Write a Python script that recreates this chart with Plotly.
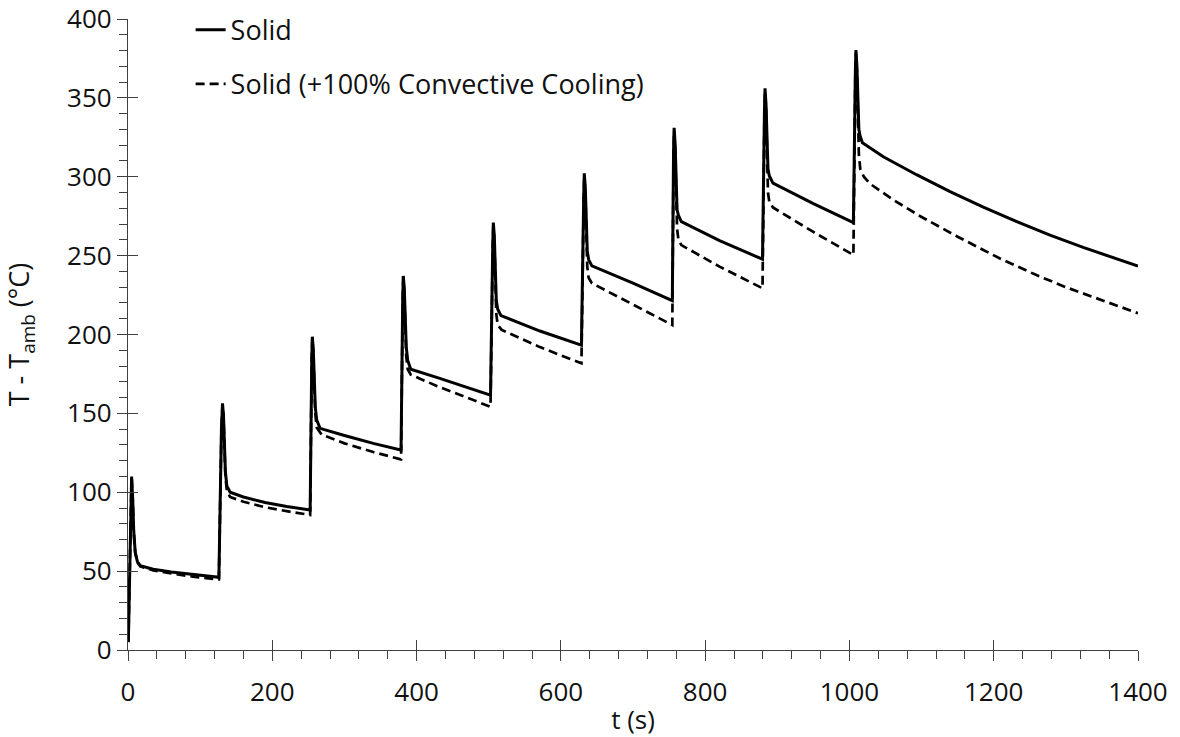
import plotly.graph_objects as go

# ---- data (t in s, T - Tamb in °C) ----
t_solid = [0.5, 3.5, 5, 6.5, 8, 10, 13, 17, 35, 60, 90, 124,
           126, 129.5, 131, 132.4, 133.7, 135, 137, 141.5, 160, 190, 220, 252.3,
           252.5, 254.7, 255.5, 256.9, 258.2, 259.6, 261.6, 266.2, 300, 340, 378,
           378.5, 380.8, 381.6, 383, 384.3, 385.7, 387.7, 392, 430, 470, 501.8,
           502.5, 505.6, 506.4, 507.8, 509.1, 510.5, 512.5, 517, 571, 626.6,
           628.5, 631.7, 632.5, 633.9, 635.2, 636.6, 638.5, 643, 700, 753.7,
           754.5, 756.2, 757, 758.4, 759.7, 761.1, 763, 767, 820, 878.4,
           879.5, 882.2, 883, 884.4, 885.7, 887.1, 889, 894, 950, 1004.5,
           1005.5, 1008.2, 1009, 1010.4, 1011.7, 1013.1, 1015, 1018, 1047, 1093,
           1139.5, 1185.6, 1232, 1278, 1324, 1400]
T_solid = [5, 95, 110, 96, 75, 62, 56, 53.5, 51.2, 49.5, 47.8, 46.1,
           46.1, 140, 156.4, 148.5, 130, 113, 104, 100, 97, 93.5, 91, 88.7,
           88.7, 185, 198.6, 190, 171, 154, 145.8, 140.5, 136, 131, 126.8,
           126.8, 223, 237.1, 229, 209, 192, 183.5, 178, 172.5, 166.5, 161.6,
           161.6, 257, 270.9, 262, 240, 221.5, 216, 212, 202.2, 193.3,
           193.3, 288, 302.2, 293, 270, 253, 247.5, 243.5, 232.5, 221.4,
           221.4, 316, 331, 321, 297, 279, 275.5, 271.5, 259.5, 247.7,
           247.7, 341, 356, 346, 321, 305, 300.5, 296, 283, 270.9,
           270.9, 366, 380.3, 370, 347, 330, 325.5, 321.5, 312.7, 301.3,
           290.6, 280.8, 271.6, 263.0, 255.2, 243.4]

t_cool = [0.5, 3.5, 5, 6.5, 8, 10, 13, 17, 35, 60, 90, 124,
          126, 129.5, 131, 132.4, 133.7, 135, 137, 141.5, 160, 190, 220, 252.3,
          252.5, 254.7, 255.5, 256.9, 258.2, 259.6, 261.6, 268.5, 300, 340, 378,
          378.5, 380.8, 381.6, 383, 384.3, 385.7, 387.7, 392, 430, 470, 501.8,
          502.5, 505.6, 506.4, 507.8, 509.1, 510.5, 512.5, 518, 571, 626.6,
          628.5, 631.7, 632.5, 633.9, 635.2, 636.6, 638.5, 643, 700, 753.7,
          754.5, 756.2, 757, 758.4, 759.7, 761.1, 763, 767, 820, 878.4,
          879.5, 882.2, 883, 884.4, 885.7, 887.1, 889, 894, 950, 1004.5,
          1005.5, 1008.2, 1009, 1010.4, 1011.7, 1013.1, 1015, 1020, 1029, 1061,
          1100, 1150, 1208, 1260, 1300, 1350, 1400]
T_cool = [5, 95, 110, 96, 75, 62, 55.5, 53, 50.5, 48.5, 46.5, 44.8,
          44.8, 139, 155.5, 148, 128, 110, 101, 97, 94, 90.5, 88, 85.6,
          85.6, 184, 197.5, 188, 168, 150, 141, 136.5, 131, 125.5, 120.9,
          120.9, 221, 236, 227, 205, 186, 178, 174.5, 167, 160, 154.2,
          154.2, 255, 269.5, 259, 234, 213, 206, 202.9, 192, 181.7,
          181.7, 286, 300.5, 290, 263, 243, 236, 232.5, 219, 206,
          206, 314, 329, 318, 289, 267, 260, 256.7, 243, 229.3,
          229.3, 339, 354, 343, 312, 290, 284, 280.5, 265, 250.4,
          250.4, 364, 378.5, 367, 337, 314, 305, 300, 295.4, 285.3,
          274.5, 262, 248.3, 237.5, 230, 221.5, 213.5]

x_ticks = [0, 200, 400, 600, 800, 1000, 1200, 1400]
y_ticks = [0, 50, 100, 150, 200, 250, 300, 350, 400]

FONT = "Open Sans"
TXT = "#111111"
AX = "#404040"

fig = go.Figure()
# solid series on the overlaid axes so that it is drawn on top
fig.add_trace(go.Scatter(x=t_solid, y=T_solid, mode="lines", name="Solid",
                         legendgroup="a", xaxis="x2", yaxis="y2",
                         line=dict(color="black", width=3)))
fig.add_trace(go.Scatter(x=t_cool, y=T_cool, mode="lines",
                         name="Solid (+100% Convective Cooling)",
                         legendgroup="b",
                         line=dict(color="black", width=2.7, dash="9px,5px")))

common_x = dict(range=[0, 1400], tickvals=x_ticks, showgrid=False, zeroline=False,
                showline=True, linecolor=AX, linewidth=1.3)
common_y = dict(range=[0, 400], tickvals=y_ticks, showgrid=False, zeroline=False,
                showline=True, linecolor=AX, linewidth=1.3)

fig.update_layout(
    width=1180, height=737,
    margin=dict(l=128, r=42, t=19, b=87, autoexpand=False),
    paper_bgcolor="white", plot_bgcolor="white",
    font=dict(family=FONT, size=26, color=TXT),
    showlegend=True,
    legend=dict(x=0.062, y=1.021, xanchor="left", yanchor="top",
                bgcolor="rgba(0,0,0,0)", font=dict(size=27, color=TXT),
                tracegroupgap=16, traceorder="grouped"),
    xaxis=dict(**common_x, ticks="outside", ticklen=10, tickwidth=1.3, tickcolor=AX,
               tickfont=dict(size=26, color=TXT), ticklabelstandoff=9,
               minor=dict(ticks="outside", ticklen=8, dtick=40, tickwidth=1.3, tickcolor=AX),
               title=dict(text="t (s)", font=dict(size=26, color=TXT), standoff=3)),
    yaxis=dict(**common_y, ticks="outside", ticklen=10, tickwidth=1.3, tickcolor=AX,
               tickfont=dict(size=26, color=TXT),
               minor=dict(ticks="outside", ticklen=8, dtick=10, tickwidth=1.3, tickcolor=AX),
               title=dict(text="T - T<sub>amb</sub> (°C)", font=dict(size=27, color=TXT), standoff=29)),
    xaxis2=dict(**common_x, overlaying="x", anchor="y2", ticks="inside", ticklen=10,
                tickwidth=1.3, tickcolor=AX, showticklabels=False),
    yaxis2=dict(**common_y, overlaying="y", anchor="x2", ticks="inside", ticklen=10,
                tickwidth=1.3, tickcolor=AX, showticklabels=False),
)

fig.write_html("out.html")
